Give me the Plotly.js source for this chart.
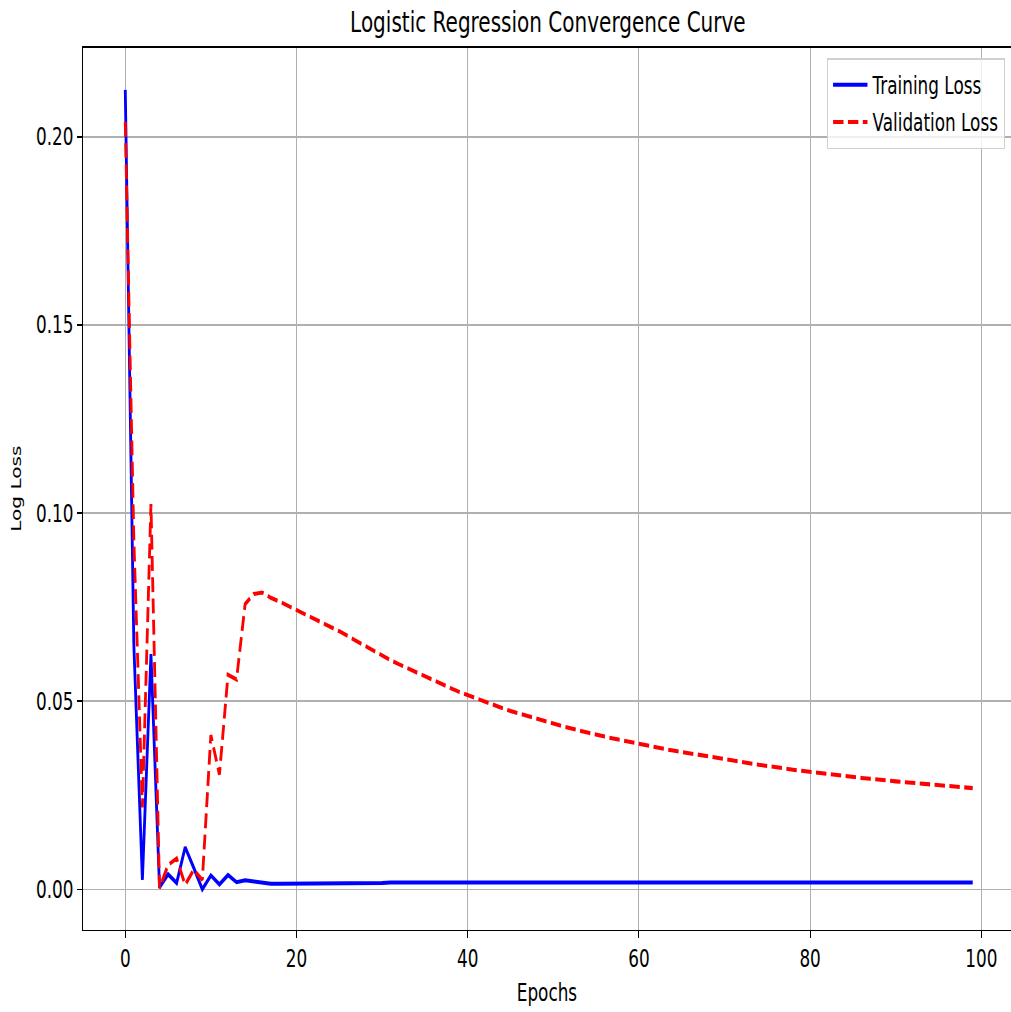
<!DOCTYPE html>
<html>
<head>
<meta charset="utf-8">
<script src="https://cdn.plot.ly/plotly-3.0.1.min.js"></script>
<style>
html, body { margin: 0; padding: 0; background: #ffffff; overflow: hidden; }
#wrap { width: 1011px; height: 1012px; overflow: hidden; }
/* The reference is a 1000x700 figure resized to 1011x1012 */
#chart { width: 1000px; height: 700px; transform: scale(1.011, 1.445714); transform-origin: 0 0; }
</style>
</head>
<body>
<div id="wrap"><div id="chart"></div></div>
<script>
// Epoch indices 0..99
const epochs = [
  0,1,2,3,4,5,6,7,8,9,10,11,12,13,14,15,16,17,18,19,
  20,21,22,23,24,25,26,27,28,29,30,31,32,33,34,35,36,37,38,39,
  40,41,42,43,44,45,46,47,48,49,50,51,52,53,54,55,56,57,58,59,
  60,61,62,63,64,65,66,67,68,69,70,71,72,73,74,75,76,77,78,79,
  80,81,82,83,84,85,86,87,88,89,90,91,92,93,94,95,96,97,98,99
];

const trainingLoss = [
  0.2125,0.0650,0.0025,0.0625,0.0005,0.0040,0.0017,0.0112,0.0057,0.0000,
  0.0037,0.0013,0.0038,0.0019,0.0024,0.0021,0.0018,0.0015,0.0015,0.0015,
  0.0015,0.0016,0.0016,0.0016,0.0016,0.0016,0.0017,0.0017,0.0017,0.0017,
  0.0017,0.0018,0.0018,0.0018,0.0018,0.0018,0.0018,0.0018,0.0018,0.0018,
  0.0019,0.0019,0.0019,0.0019,0.0019,0.0019,0.0019,0.0019,0.0019,0.0019,
  0.0019,0.0019,0.0019,0.0019,0.0019,0.0019,0.0019,0.0019,0.0019,0.0019,
  0.0019,0.0019,0.0019,0.0019,0.0019,0.0019,0.0019,0.0019,0.0019,0.0019,
  0.0019,0.0019,0.0019,0.0019,0.0019,0.0019,0.0018,0.0018,0.0018,0.0018,
  0.0018,0.0018,0.0018,0.0018,0.0018,0.0018,0.0018,0.0018,0.0018,0.0018,
  0.0018,0.0018,0.0018,0.0018,0.0018,0.0018,0.0018,0.0018,0.0018,0.0018
];

const validationLoss = [
  0.2040,0.0930,0.0218,0.1024,0.0003,0.0065,0.0082,0.0012,0.0052,0.0025,
  0.0410,0.0305,0.0570,0.0558,0.0758,0.0785,0.0789,0.0775,0.0765,0.0754,
  0.0743,0.0732,0.0721,0.0710,0.0698,0.0686,0.0673,0.0660,0.0647,0.0634,
  0.0621,0.0609,0.0598,0.0587,0.0576,0.0565,0.0555,0.0545,0.0535,0.0525,
  0.0516,0.0507,0.0498,0.0490,0.0482,0.0474,0.0467,0.0460,0.0453,0.0446,
  0.0440,0.0434,0.0428,0.0422,0.0416,0.0411,0.0406,0.0401,0.0396,0.0391,
  0.0386,0.0381,0.0377,0.0373,0.0369,0.0365,0.0361,0.0357,0.0353,0.0349,
  0.0345,0.0341,0.0338,0.0334,0.0331,0.0328,0.0324,0.0321,0.0318,0.0315,
  0.0312,0.0309,0.0306,0.0304,0.0301,0.0299,0.0296,0.0294,0.0291,0.0289,
  0.0287,0.0285,0.0283,0.0281,0.0279,0.0277,0.0275,0.0273,0.0271,0.0269
];

const seriesNames = ["Training Loss", "Validation Loss"];
const xTicks = [0, 20, 40, 60, 80, 100];
const yTicks = [0.00, 0.05, 0.10, 0.15, 0.20];
const yTickText = ["0.00", "0.05", "0.10", "0.15", "0.20"];

const FONT = "DejaVu Sans, sans-serif";

const traces = [
  {
    x: epochs, y: trainingLoss, name: seriesNames[0], legendgroup: "a",
    type: "scatter", mode: "lines",
    line: { color: "#0000ff", width: 2.8 }
  },
  {
    x: epochs, y: validationLoss, name: seriesNames[1], legendgroup: "b",
    type: "scatter", mode: "lines",
    line: { color: "#ff0000", width: 2.8, dash: "10.3px,4.4px" }
  }
];

const layout = {
  width: 1000, height: 700,
  margin: { l: 82.4, r: 0, t: 32.5, b: 56.7, pad: 0 },
  paper_bgcolor: "#ffffff", plot_bgcolor: "#ffffff",
  font: { family: FONT, color: "#000000", size: 16.67 },
  title: {
    text: "Logistic Regression Convergence Curve",
    font: { family: FONT, size: 19.8, color: "#000000" },
    xref: "paper", x: 0.501, xanchor: "center",
    yref: "container", y: 0.978, yanchor: "middle"
  },
  showlegend: true,
  legend: {
    x: 0.9935, xanchor: "right", y: 0.988, yanchor: "top",
    bgcolor: "rgba(255,255,255,0.8)", bordercolor: "#d0d0d0", borderwidth: 1,
    font: { family: FONT, size: 16.67, color: "#000000" },
    traceorder: "grouped", tracegroupgap: 1, itemwidth: 34
  },
  xaxis: {
    range: [-4.95, 103.47],
    tickvals: xTicks, ticktext: xTicks.map(String),
    ticks: "outside", ticklen: 4.9, tickwidth: 1.1, tickcolor: "#000000",
    showgrid: true, gridcolor: "#b0b0b0", gridwidth: 1.1,
    zeroline: false,
    showline: true, linecolor: "#000000", linewidth: 1.1, mirror: true,
    tickfont: { family: FONT, size: 16.67, color: "#000000" },
    title: { text: "Epochs", font: { family: FONT, size: 16.67, color: "#000000" }, standoff: 8 }
  },
  yaxis: {
    range: [-0.0107, 0.2237],
    tickvals: yTicks, ticktext: yTickText,
    ticks: "outside", ticklen: 4.9, tickwidth: 1.1, tickcolor: "#000000",
    showgrid: true, gridcolor: "#b0b0b0", gridwidth: 1.1,
    zeroline: false,
    showline: true, linecolor: "#000000", linewidth: 1.1, mirror: true,
    tickfont: { family: FONT, size: 16.67, color: "#000000" },
    title: { text: "Log Loss", font: { family: FONT, size: 13.9, color: "#000000" }, standoff: 10 }
  }
};

Plotly.newPlot("chart", traces, layout, { displayModeBar: false, responsive: false, staticPlot: true });
</script>
</body>
</html>
